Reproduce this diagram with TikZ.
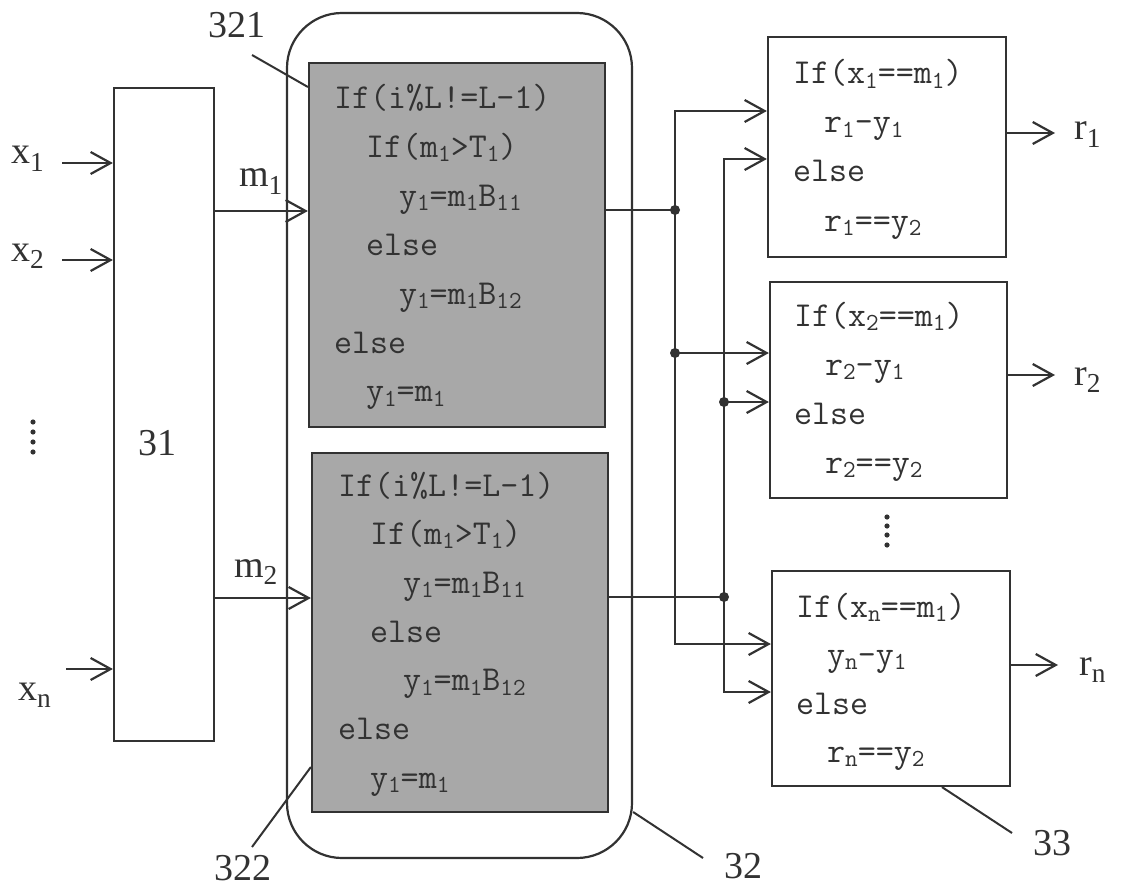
\documentclass[tikz,border=0pt]{standalone}
\usepackage{fontspec}
\usepackage{graphicx}
\setmainfont{Liberation Serif}
\usetikzlibrary{arrows.meta}
\newcommand\dn[1]{\raisebox{-0.12em}{\scalebox{0.7}{#1}}}
\newcommand\sdn[1]{\raisebox{-0.2em}{\scalebox{0.72}{#1}}}
\definecolor{ink}{RGB}{50,50,50}
\definecolor{shade}{RGB}{168,168,168}
\begin{document}
\begin{tikzpicture}[x=1pt,y=-1pt,line width=2.2pt,color=ink,
  box/.style={draw,inner sep=0pt},
  code/.style={font=\ttfamily\fontsize{35}{40}\selectfont,inner sep=0pt,anchor=base west},
  lab/.style={font=\fontsize{38}{44}\selectfont,inner sep=0pt,anchor=base west},
  arr/.style={-{Straight Barb[length=20pt,width=22pt]}},
  lead/.style={line width=2pt}]
\useasboundingbox (0,0) rectangle (1128,888);

% block 31
\node[box,minimum width=100pt,minimum height=653pt] (b31) at (164,414.5) {};
\node[lab] (t31) at (137,455) {31};

% block 32 with 321 and 322
\node[box,rounded corners=55pt,minimum width=345pt,minimum height=845pt] (b32) at (459.5,435.5) {};
\node[box,fill=shade,minimum width=296pt,minimum height=364pt] (g1) at (457,245) {};
\node[box,fill=shade,minimum width=296pt,minimum height=359pt] (g2) at (460,632.5) {};

% blocks 33
\node[box,minimum width=238pt,minimum height=220pt] (R1) at (887,147) {};
\node[box,minimum width=237pt,minimum height=216pt] (R2) at (888.5,390) {};
\node[box,minimum width=238pt,minimum height=215pt] (R3) at (891,678.5) {};

% code in grey boxes
\foreach \dx/\t [count=\i] in {0/{If(i\%L!=L-1)},32/{If(m\dn{1}>T\dn{1})},65/{y\dn{1}=m\dn{1}B\dn{11}},32/{else},65/{y\dn{1}=m\dn{1}B\dn{12}},0/{else},32/{y\dn{1}=m\dn{1}}}
  \node[code] (ga\i) at (333+\dx,{109+(\i-1)*48.8}) {\t};
\foreach \dx/\t [count=\i] in {0/{If(i\%L!=L-1)},32/{If(m\dn{1}>T\dn{1})},65/{y\dn{1}=m\dn{1}B\dn{11}},32/{else},65/{y\dn{1}=m\dn{1}B\dn{12}},0/{else},32/{y\dn{1}=m\dn{1}}}
  \node[code] (gb\i) at (337+\dx,{496+(\i-1)*48.7}) {\t};

% code in right boxes
\foreach \dx/\t [count=\i] in {0/{If(x\dn{1}==m\dn{1})},31/{r\dn{1}-y\dn{1}},0/{else},31/{r\dn{1}==y\dn{2}}}
  \node[code] (ra\i) at (792+\dx,{84+(\i-1)*49}) {\t};
\foreach \dx/\t [count=\i] in {0/{If(x\dn{2}==m\dn{1})},31/{r\dn{2}-y\dn{1}},0/{else},31/{r\dn{2}==y\dn{2}}}
  \node[code] (rb\i) at (793+\dx,{326+(\i-1)*49}) {\t};
\foreach \dx/\t [count=\i] in {0/{If(x\dn{n}==m\dn{1})},31/{y\dn{n}-y\dn{1}},0/{else},31/{r\dn{n}==y\dn{2}}}
  \node[code] (rc\i) at (795+\dx,{617+(\i-1)*48.5}) {\t};

% inputs
\node[lab] (lx1) at (10,164) {x\sdn{1}};
\node[lab] (lx2) at (10,261) {x\sdn{2}};
\node[lab] (lxn) at (17,700) {x\sdn{n}};
\coordinate (cx1) at (62,163);
\coordinate (cx2) at (62,260);
\coordinate (cxn) at (66,669);
\draw[arr] (cx1) -- (cx1 -| b31.west);
\draw[arr] (cx2) -- (cx2 -| b31.west);
\draw[arr] (cxn) -- (cxn -| b31.west);
\foreach \yy in {422,432,442,452} \fill (33,\yy) circle (2.6pt);

% m1, m2
\node[lab] (lm1) at (238,187) {m\sdn{1}};
\node[lab] (lm2) at (233,577) {m\sdn{2}};
\draw[arr] (b31.east |- 0,211) -- (g1.west |- 0,211);
\draw[arr] (b31.east |- 0,598) -- (g2.west |- 0,598);

% distribution network
\coordinate (j1) at (675,210);
\coordinate (j2) at (724,597);
\draw (g1.east |- j1) -- (j1);
\draw (g2.east |- j2) -- (j2);
\draw[arr] (j1) |- (R1.west |- 0,111);
\draw[arr] (j1) |- (R3.west |- 0,644);
\draw[arr] (j1 |- 0,353) -- (R2.west |- 0,353);
\draw[arr] (j2) |- (R1.west |- 0,159);
\draw[arr] (j2) |- (R3.west |- 0,692);
\draw[arr] (j2 |- 0,402) -- (R2.west |- 0,402);
\fill (j1) circle (5pt);
\fill (j1 |- 0,353) circle (5pt);
\fill (j2) circle (5pt);
\fill (j2 |- 0,402) circle (5pt);
\foreach \yy in {517,526,535,545} \fill (887,\yy) circle (2.6pt);

% outputs
\node[lab] (lr1) at (1073,140) {r\sdn{1}};
\node[lab] (lr2) at (1073,385) {r\sdn{2}};
\node[lab] (lrn) at (1078,675) {r\sdn{n}};
\coordinate (e1) at (1055,133);
\coordinate (e2) at (1055,375);
\coordinate (en) at (1058,665);
\draw[arr] (R1.east |- e1) -- (e1);
\draw[arr] (R2.east |- e2) -- (e2);
\draw[arr] (R3.east |- en) -- (en);

% reference labels with leaders
\node[lab] (l321) at (207,38) {321};
\node[lab] (l322) at (213,880) {322};
\node[lab] (l32) at (723,878) {32};
\node[lab] (l33) at (1032,855) {33};
\coordinate (p321) at (252,55);
\coordinate (p322) at (252,847);
\coordinate (p32) at (703,858);
\coordinate (p33) at (1012,833);
\draw[lead] (p321) -- (g1.west |- 0,87);
\draw[lead] (p322) -- (g2.west |- 0,767);
\draw[lead] (b32.east |- 0,812) -- (p32);
\draw[lead] (R3.south -| 942,0) -- (p33);
\end{tikzpicture}
\end{document}
